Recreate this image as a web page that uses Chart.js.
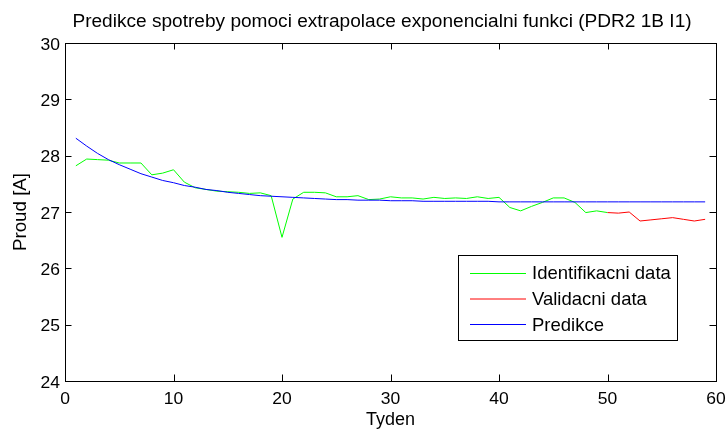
<!DOCTYPE html>
<html>
<head>
<meta charset="utf-8">
<script src="https://cdn.jsdelivr.net/npm/chart.js@4"></script>
<style>
  html, body { margin: 0; padding: 0; background: #fff; }
  #wrap { width: 728px; height: 429px; }
</style>
</head>
<body>
<div id="wrap"><canvas id="proudChart" width="728" height="429"></canvas></div>
<script>
var weeks = [1, 2, 3, 4, 5, 6, 7, 8, 9, 10, 11, 12, 13, 14, 15, 16, 17, 18, 19, 20,
  21, 22, 23, 24, 25, 26, 27, 28, 29, 30, 31, 32, 33, 34, 35, 36, 37, 38, 39, 40,
  41, 42, 43, 44, 45, 46, 47, 48, 49, 50, 51, 52, 53, 54, 55, 56, 57, 58, 59];

// identifikacni data, tyden 1..50
var identData = [27.82, 27.94, 27.93, 27.92, 27.87, 27.87, 27.87, 27.66, 27.69, 27.75,
  27.53, 27.43, 27.40, 27.37, 27.36, 27.35, 27.33, 27.34, 27.29, 26.55,
  27.23, 27.35, 27.35, 27.34, 27.27, 27.27, 27.29, 27.22, 27.23, 27.27,
  27.25, 27.25, 27.23, 27.26, 27.24, 27.25, 27.24, 27.27, 27.24, 27.26,
  27.08, 27.02, 27.10, 27.17, 27.25, 27.25, 27.17, 26.99, 27.02, 26.99];

// validacni data, tyden 50..59
var validData = [26.99, 26.98, 27.00, 26.84, 26.86, 26.88, 26.90, 26.87, 26.84, 26.87];

// predikce, tyden 1..59
var predData = [28.31, 28.17, 28.04, 27.93, 27.84, 27.76, 27.68, 27.62, 27.56, 27.52,
  27.47, 27.44, 27.40, 27.38, 27.35, 27.33, 27.31, 27.29, 27.28, 27.27,
  27.26, 27.25, 27.24, 27.23, 27.22, 27.22, 27.21, 27.21, 27.21, 27.20,
  27.20, 27.20, 27.19, 27.19, 27.19, 27.19, 27.19, 27.19, 27.19, 27.18,
  27.18, 27.18, 27.18, 27.18, 27.18, 27.18, 27.18, 27.18, 27.18, 27.18,
  27.18, 27.18, 27.18, 27.18, 27.18, 27.18, 27.18, 27.18, 27.18];

var xTicks = [0, 10, 20, 30, 40, 50, 60];
var yTicks = [24, 25, 26, 27, 28, 29, 30];

var seriesNames = ['Identifikacni data', 'Validacni data', 'Predikce'];
var chartTitle = 'Predikce spotreby pomoci extrapolace exponencialni funkci (PDR2 1B I1)';
var xTitle = 'Tyden';
var yTitle = 'Proud [A]';

var FONT = '"Liberation Sans", Arial, sans-serif';

function pts(xs, ys) {
  return ys.map(function (v, i) { return { x: xs[i], y: v }; });
}

function txt(c, s, x, y, align, size, stretch, rot) {
  c.save();
  c.translate(x, y);
  if (rot) c.rotate(rot);
  c.scale(stretch, 1);
  c.font = size + 'px ' + FONT;
  c.textAlign = align;
  c.textBaseline = 'alphabetic';
  c.fillStyle = '#000';
  c.fillText(s, 0, 0);
  c.restore();
}

// box, inward ticks, labels, titles and legend in MATLAB style
var matlabLook = {
  id: 'matlabLook',
  afterDraw: function (chart) {
    var c = chart.ctx, a = chart.chartArea;
    var sx = chart.scales.x, sy = chart.scales.y;
    var tl = 6.5;
    c.save();
    c.strokeStyle = '#000';
    c.lineWidth = 1;
    c.beginPath();
    xTicks.forEach(function (t) {
      var px = Math.round(sx.getPixelForValue(t)) + 0.5;
      c.moveTo(px, a.bottom); c.lineTo(px, a.bottom - tl);
      c.moveTo(px, a.top); c.lineTo(px, a.top + tl);
    });
    yTicks.forEach(function (t) {
      var py = Math.round(sy.getPixelForValue(t)) + 0.5;
      c.moveTo(a.left, py); c.lineTo(a.left + tl, py);
      c.moveTo(a.right, py); c.lineTo(a.right - tl, py);
    });
    c.stroke();
    c.strokeRect(Math.round(a.left) + 0.5, Math.round(a.top) + 0.5,
      Math.round(a.right - a.left), Math.round(a.bottom - a.top));

    xTicks.forEach(function (t) {
      txt(c, String(t), sx.getPixelForValue(t), a.bottom + 23, 'center', 17, 1.03);
    });
    yTicks.forEach(function (t) {
      txt(c, String(t), a.left - 5, sy.getPixelForValue(t) + 6.5, 'right', 17, 1.03);
    });

    txt(c, chartTitle, 382, 27, 'center', 17.5, 1.09);
    txt(c, xTitle, (a.left + a.right) / 2, 425, 'center', 18, 1.0);
    txt(c, yTitle, 25.5, (a.top + a.bottom) / 2, 'center', 18, 1.04, -Math.PI / 2);

    // legend
    var lx = 458.5, ly = 255.5, lw = 219, lh = 85;
    c.fillStyle = '#fff';
    c.fillRect(lx, ly, lw, lh);
    c.strokeStyle = '#000';
    c.strokeRect(lx, ly, lw, lh);
    var rows = [273, 298.5, 324];
    var bases = [278.5, 304.5, 330.5];
    chart.data.datasets.forEach(function (ds, i) {
      c.strokeStyle = ds.borderColor;
      c.beginPath();
      c.moveTo(470, rows[i] + 0.5); c.lineTo(526, rows[i] + 0.5);
      c.stroke();
      txt(c, ds.label, 532, bases[i], 'left', 18.5, 1.0);
    });
    c.restore();
  }
};

var ctx = document.getElementById('proudChart').getContext('2d');
var chart = new Chart(ctx, {
  type: 'line',
  data: {
    datasets: [{
      label: seriesNames[0],
      data: pts(weeks.slice(0, 50), identData),
      borderColor: '#00ff00',
      borderWidth: 1,
      pointRadius: 0,
      order: 2
    }, {
      label: seriesNames[1],
      data: pts(weeks.slice(49), validData),
      borderColor: '#ff0000',
      borderWidth: 1,
      pointRadius: 0,
      order: 1
    }, {
      label: seriesNames[2],
      data: pts(weeks, predData),
      borderColor: '#0000ff',
      borderWidth: 1,
      pointRadius: 0,
      order: 0
    }]
  },
  options: {
    responsive: false,
    animation: false,
    layout: { padding: { top: 43, right: 12, left: 0, bottom: 0 } },
    plugins: {
      legend: { display: false },
      tooltip: { enabled: false }
    },
    scales: {
      x: {
        type: 'linear',
        min: 0, max: 60,
        afterBuildTicks: function (s) { s.ticks = xTicks.map(function (v) { return { value: v }; }); },
        afterFit: function (s) { s.height = 48; },
        grid: { display: false, drawTicks: false },
        border: { display: false },
        ticks: { display: false }
      },
      y: {
        min: 24, max: 30,
        afterBuildTicks: function (s) { s.ticks = yTicks.map(function (v) { return { value: v }; }); },
        afterFit: function (s) { s.width = 65; },
        grid: { display: false, drawTicks: false },
        border: { display: false },
        ticks: { display: false }
      }
    }
  },
  plugins: [matlabLook]
});
</script>
</body>
</html>
